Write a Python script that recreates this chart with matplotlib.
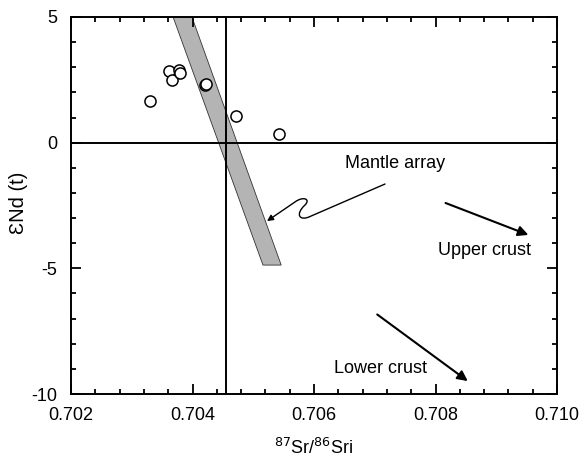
import matplotlib
matplotlib.use("Agg")
import matplotlib.pyplot as plt
from matplotlib.patches import Polygon, FancyArrowPatch
from matplotlib.path import Path
from matplotlib.ticker import MultipleLocator

plt.rcParams['font.family'] = ['Liberation Sans', 'DejaVu Sans']
plt.rcParams['axes.unicode_minus'] = False

# sample points (Sr initial ratio, eNd(t))
sr_i = [0.70330, 0.70361, 0.70366, 0.70378, 0.70379, 0.70421, 0.70422, 0.70472, 0.70542]
end_t = [1.67, 2.85, 2.49, 2.89, 2.78, 2.29, 2.33, 1.07, 0.36]

# mantle array band corners
band_x = [0.70368, 0.70399, 0.70546, 0.70516]
band_y = [5.0, 5.0, -4.87, -4.87]

# bulk earth reference
bse_sr = 0.70455
bse_nd = 0.0

# crust trend arrows (start, end)
upper_arrow = [(0.708123, -2.36), (0.709572, -3.71)]
lower_arrow = [(0.707004, -6.77), (0.708568, -9.55)]

# squiggly pointer from "Mantle array" label to band
squig_pts = [(0.707169, -1.645), (0.705951, -2.92),
             (0.705753, -3.16), (0.705687, -2.84), (0.705852, -2.48),
             (0.705951, -2.24), (0.705819, -2.12), (0.705687, -2.36),
             (0.705226, -3.12)]
squig_codes = [Path.MOVETO, Path.LINETO,
               Path.CURVE4, Path.CURVE4, Path.CURVE4,
               Path.CURVE4, Path.CURVE4, Path.CURVE4,
               Path.LINETO]

fig = plt.figure(figsize=(5.86, 4.58), dpi=100)
ax = fig.add_axes([0.1212, 0.1397, 0.8293, 0.8232])

ax.add_patch(Polygon(list(zip(band_x, band_y)), closed=True,
                     facecolor='#b4b4b4', edgecolor='#333333', lw=0.6, zorder=1))

ax.axhline(bse_nd, color='black', lw=1.4, zorder=2)
ax.axvline(bse_sr, color='black', lw=1.4, zorder=2)

ax.plot(sr_i, end_t, 'o', mfc='white', mec='black', ms=8, mew=1.1, zorder=3)

arrow_kw = dict(arrowstyle='-|>', color='black', lw=1.5, mutation_scale=15)
ax.annotate('', xy=upper_arrow[1], xytext=upper_arrow[0], arrowprops=arrow_kw)
ax.annotate('', xy=lower_arrow[1], xytext=lower_arrow[0], arrowprops=arrow_kw)

squig = FancyArrowPatch(path=Path(squig_pts, squig_codes), arrowstyle='-|>',
                        color='black', lw=1.0, mutation_scale=9,
                        transform=ax.transData)
ax.add_patch(squig)

ax.text(0.70651, -0.81, 'Mantle array', fontsize=13, ha='left', va='center')
ax.text(0.708807, -4.31, 'Upper crust', fontsize=13, ha='center', va='center')
ax.text(0.707095, -9.0, 'Lower crust', fontsize=13, ha='center', va='center')

ax.set_xlim(0.702, 0.710)
ax.set_ylim(-10, 5)
ax.xaxis.set_minor_locator(MultipleLocator(0.0004))
ax.yaxis.set_major_locator(MultipleLocator(5))
ax.yaxis.set_minor_locator(MultipleLocator(1))
ax.set_xticks([0.702, 0.704, 0.706, 0.708, 0.710])
ax.set_xticklabels(['0.702', '0.704', '0.706', '0.708', '0.710'])

ax.tick_params(which='both', direction='in', top=True, right=True,
               labelsize=13, width=1.3)
ax.tick_params(which='major', length=7)
ax.tick_params(axis='y', which='major', pad=10)
ax.tick_params(axis='x', which='major', pad=9)
ax.tick_params(which='minor', length=3.5)
for s in ax.spines.values():
    s.set_linewidth(1.4)

ax.set_xlabel(r'$^{87}$Sr/$^{86}$Sri', fontsize=13, labelpad=10)
ax.set_ylabel('ƐNd (t)', fontsize=14.5)
ax.yaxis.set_label_coords(-0.088, 0.507)

fig.savefig('out.png', dpi=100)
